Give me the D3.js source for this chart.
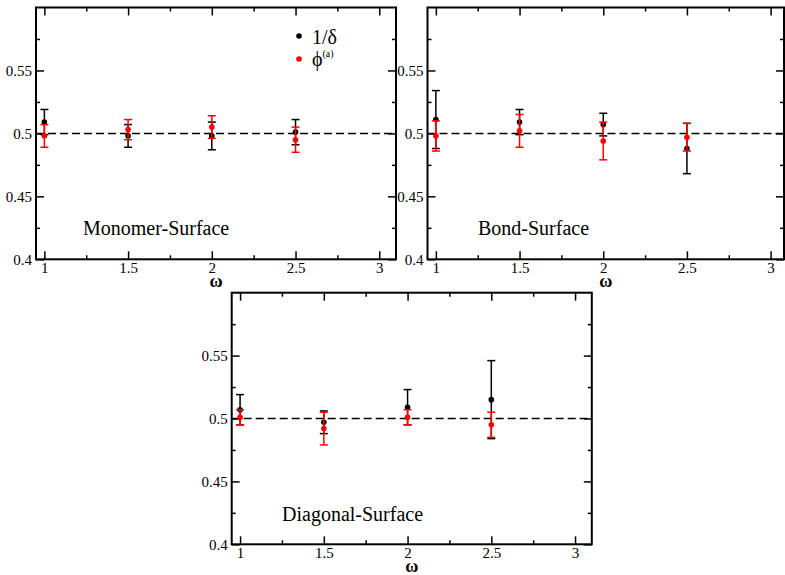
<!DOCTYPE html>
<html>
<head>
<meta charset="utf-8">
<script src="https://cdn.jsdelivr.net/npm/d3@7"></script>
<style>
  body { margin: 0; background: #fff; }
  text { font-family: "Liberation Serif", "Times New Roman", serif; }
</style>
</head>
<body>
<div id="chart"></div>
<script>
// data
const omega = [1, 1.5, 2, 2.5];
const xTicks = [1, 1.5, 2, 2.5, 3];
const xMinor = [1.25, 1.75, 2.25, 2.75];
const yTicks = [0.4, 0.45, 0.5, 0.55];
const yMinor = [0.425, 0.475, 0.525, 0.575];
const yTickLabels = ["0.4", "0.45", "0.5", "0.55"];
const xTickLabels = ["1", "1.5", "2", "2.5", "3"];

const monomerDelta = [0.509, 0.498, 0.498, 0.501];
const monomerDeltaErr = [0.010, 0.009, 0.011, 0.010];
const monomerPhi = [0.498, 0.503, 0.505, 0.495];
const monomerPhiErr = [0.009, 0.008, 0.009, 0.010];

const bondDelta = [0.511, 0.509, 0.507, 0.488];
const bondDeltaErr = [0.023, 0.010, 0.009, 0.020];
const bondPhi = [0.498, 0.502, 0.494, 0.497];
const bondPhiErr = [0.012, 0.013, 0.015, 0.011];

const diagDelta = [0.507, 0.497, 0.509, 0.515];
const diagDeltaErr = [0.012, 0.009, 0.014, 0.031];
const diagPhi = [0.501, 0.492, 0.501, 0.495];
const diagPhiErr = [0.006, 0.013, 0.006, 0.010];

const width = 785, height = 575;

const svg = d3.select("#chart").append("svg")
  .attr("width", width)
  .attr("height", height);

// panel boxes (pixel layout)
const panels = [
  { name: "Monomer-Surface", x0: 36, x1: 396, y0: 259.3, y1: 7.5, xMax: 3.1,
    delta: monomerDelta, dErr: monomerDeltaErr, phi: monomerPhi, pErr: monomerPhiErr,
    labelX: 83, labelY: 235, legend: true },
  { name: "Bond-Surface", x0: 427.5, x1: 784, y0: 259.3, y1: 7.5, xMax: 3.08,
    delta: bondDelta, dErr: bondDeltaErr, phi: bondPhi, pErr: bondPhiErr,
    labelX: 478, labelY: 235, legend: false },
  { name: "Diagonal-Surface", x0: 231.7, x1: 591.8, y0: 544.3, y1: 292.7, xMax: 3.1,
    delta: diagDelta, dErr: diagDeltaErr, phi: diagPhi, pErr: diagPhiErr,
    labelX: 282, labelY: 521, legend: false }
];

panels.forEach(p => {
  const x = d3.scaleLinear().domain([0.95, p.xMax]).range([p.x0, p.x1]);
  const y = d3.scaleLinear().domain([0.4, 0.6]).range([p.y0, p.y1]);
  const g = svg.append("g");

  // axes with inward ticks on all four sides
  const fmtX = (d, i) => xTickLabels[i];
  const fmtY = (d, i) => yTickLabels[i];

  const addAxis = (axis, tr) => {
    const a = g.append("g").attr("transform", tr).call(axis)
      .attr("font-family", null)
      .attr("font-size", 15);
    a.select(".domain").remove();
    a.selectAll("line").attr("stroke", "#000").attr("stroke-width", 1.5);
    return a;
  };

  addAxis(d3.axisBottom(x).tickValues(xTicks).tickFormat(fmtX).tickSize(-8).tickPadding(3),
    `translate(0,${p.y0})`);
  addAxis(d3.axisBottom(x).tickValues(xMinor).tickFormat("").tickSize(-4),
    `translate(0,${p.y0})`);
  addAxis(d3.axisTop(x).tickValues(xTicks).tickFormat("").tickSize(-8),
    `translate(0,${p.y1})`);
  addAxis(d3.axisTop(x).tickValues(xMinor).tickFormat("").tickSize(-4),
    `translate(0,${p.y1})`);
  addAxis(d3.axisLeft(y).tickValues(yTicks).tickFormat(fmtY).tickSize(-8).tickPadding(4),
    `translate(${p.x0},0)`);
  addAxis(d3.axisLeft(y).tickValues(yMinor).tickFormat("").tickSize(-4),
    `translate(${p.x0},0)`);
  addAxis(d3.axisRight(y).tickValues(yTicks).tickFormat("").tickSize(-8),
    `translate(${p.x1},0)`);
  addAxis(d3.axisRight(y).tickValues(yMinor).tickFormat("").tickSize(-4),
    `translate(${p.x1},0)`);

  // frame
  g.append("rect")
    .attr("x", p.x0).attr("y", p.y1)
    .attr("width", p.x1 - p.x0).attr("height", p.y0 - p.y1)
    .attr("fill", "none").attr("stroke", "#000").attr("stroke-width", 2);

  // reference line at 0.5
  g.append("line")
    .attr("x1", p.x0).attr("x2", p.x1)
    .attr("y1", y(0.5)).attr("y2", y(0.5))
    .attr("stroke", "#000").attr("stroke-width", 1.5)
    .attr("stroke-dasharray", "8,4");

  // error bars + points
  const series = [
    { vals: p.delta, errs: p.dErr, color: "#000" },
    { vals: p.phi, errs: p.pErr, color: "#ff0000" }
  ];
  series.forEach(s => {
    const pts = omega.map((w, i) => ({ w: w, v: s.vals[i], e: s.errs[i] }));
    const eb = g.append("g").attr("stroke", s.color).attr("stroke-width", 1.5);
    eb.selectAll(".v").data(pts).enter().append("line")
      .attr("x1", d => x(d.w)).attr("x2", d => x(d.w))
      .attr("y1", d => y(d.v - d.e)).attr("y2", d => y(d.v + d.e));
    eb.selectAll(".t").data(pts).enter().append("line")
      .attr("x1", d => x(d.w) - 4).attr("x2", d => x(d.w) + 4)
      .attr("y1", d => y(d.v + d.e)).attr("y2", d => y(d.v + d.e));
    eb.selectAll(".b").data(pts).enter().append("line")
      .attr("x1", d => x(d.w) - 4).attr("x2", d => x(d.w) + 4)
      .attr("y1", d => y(d.v - d.e)).attr("y2", d => y(d.v - d.e));
    g.append("g").selectAll("circle").data(pts).enter().append("circle")
      .attr("cx", d => x(d.w)).attr("cy", d => y(d.v))
      .attr("r", 2.8).attr("fill", s.color);
  });

  // panel title
  g.append("text")
    .attr("x", p.labelX).attr("y", p.labelY)
    .attr("font-size", 20)
    .text(p.name);

  // x-axis label
  g.append("text")
    .attr("x", (p.x0 + p.x1) / 2).attr("y", p.y0 + 28)
    .attr("text-anchor", "middle")
    .attr("font-size", 18).attr("font-weight", "bold")
    .text("ω");

  if (p.legend) {
    g.append("circle").attr("cx", 299).attr("cy", 36).attr("r", 2.8).attr("fill", "#000");
    g.append("text").attr("x", 312).attr("y", 44).attr("font-size", 20).text("1/δ");
    g.append("circle").attr("cx", 299).attr("cy", 59).attr("r", 2.8).attr("fill", "#ff0000");
    const t = g.append("text").attr("x", 312).attr("y", 66).attr("font-size", 20);
    t.append("tspan").text("ϕ");
    t.append("tspan").attr("font-size", 10).attr("dy", -9).text("(a)");
  }
});
</script>
</body>
</html>
